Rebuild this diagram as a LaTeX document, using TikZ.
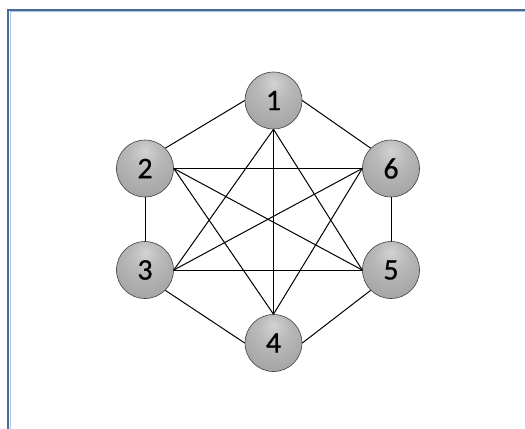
\documentclass[tikz,border=0pt]{standalone}
\usepackage{fontspec}
\setmainfont{Carlito}
\pgfdeclareradialshading{vballshade}{\pgfpoint{0bp}{16bp}}{%
color(0bp)=(gray!35);
color(14bp)=(gray!55);
color(32bp)=(gray!70);
color(50bp)=(gray!78);
color(60bp)=(gray!100);
color(70bp)=(gray!70!black)}
\begin{document}
\begin{tikzpicture}[x=1bp,y=-1bp,
  vnode/.style={circle, minimum size=57bp, inner sep=0pt, shading=vballshade,
    draw=gray!50!black, line width=0.6bp, font=\fontsize{30}{30}\selectfont\addfontfeature{FakeBold=0.6}, text=black},
  edge/.style={line width=1bp, black}]
\useasboundingbox (0,0) rectangle (525,428);
\fill[white] (0,0) rectangle (525,428);
% frame
\draw[line width=2bp, color={rgb,255:red,74;green,106;blue,150}] (8,435) -- (8,9.5) -- (530,9.5);
\draw[line width=0.8bp, color={rgb,255:red,170;green,195;blue,225}] (10,435) -- (10,11.3) -- (530,11.3);
% nodes
\node[vnode] (n1) at (273.5,100.5) {1};
\node[vnode] (n2) at (145,168.5) {2};
\node[vnode] (n3) at (145,270) {3};
\node[vnode] (n4) at (273.5,343) {4};
\node[vnode] (n5) at (391,270) {5};
\node[vnode] (n6) at (391,168.5) {6};
% edges
\draw[edge] (n2.north east) -- (n1.west);
\draw[edge] (n1.east) -- (n6.north west);
\draw[edge] (n2.south) -- (n3.north);
\draw[edge] (n6.south) -- (n5.north);
\draw[edge] (n3.south east) -- (n4.west);
\draw[edge] (n5.south west) -- (n4.east);
\draw[edge] (n1.south) -- (n3.east);
\draw[edge] (n1.south) -- (n4.north);
\draw[edge] (n1.south) -- (n5.west);
\draw[edge] (n2.east) -- (n6.west);
\draw[edge] (n2.east) -- (n5.west);
\draw[edge] (n2.east) -- (n4.north);
\draw[edge] (n3.east) -- (n6.west);
\draw[edge] (n3.east) -- (n5.west);
\draw[edge] (n6.west) -- (n4.north);
\end{tikzpicture}
\end{document}
